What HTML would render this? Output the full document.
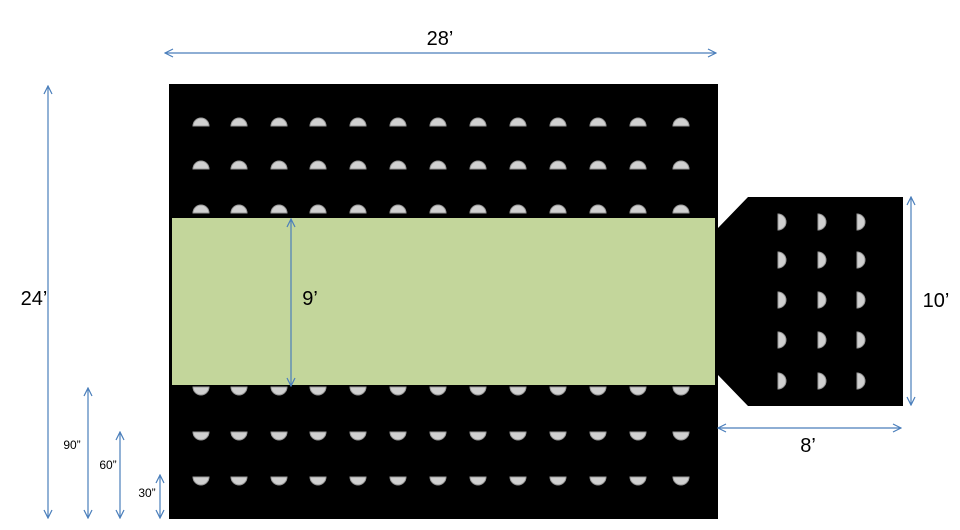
<!DOCTYPE html>
<html><head><style>html,body{margin:0;padding:0;background:#fff}svg{display:block}</style></head>
<body>
<svg width="960" height="530" xmlns="http://www.w3.org/2000/svg" font-family="Liberation Sans, sans-serif">
<defs>
<marker id="a" viewBox="0 0 10 10" refX="9" refY="5" markerWidth="10" markerHeight="10" orient="auto-start-reverse" markerUnits="userSpaceOnUse"><path d="M1,1 L9,5 L1,9" fill="none" stroke="#4a7ebb" stroke-width="1.2"/></marker>
</defs>
<rect x="169" y="84" width="549" height="435" fill="#000"/>
<rect x="172" y="218" width="543" height="167" fill="#c3d69b"/>
<polygon points="718,228 748,197 903,197 903,406 748,406 718,375" fill="#000"/>
<g fill="#d0d0d0" stroke="#999" stroke-width="1">
<g id="top">
<path d="M193,126 a8,8 0 0 1 16,0z"/><path d="M231,126 a8,8 0 0 1 16,0z"/><path d="M271,126 a8,8 0 0 1 16,0z"/><path d="M310,126 a8,8 0 0 1 16,0z"/><path d="M350,126 a8,8 0 0 1 16,0z"/><path d="M390,126 a8,8 0 0 1 16,0z"/><path d="M430,126 a8,8 0 0 1 16,0z"/><path d="M470,126 a8,8 0 0 1 16,0z"/><path d="M510,126 a8,8 0 0 1 16,0z"/><path d="M550,126 a8,8 0 0 1 16,0z"/><path d="M590,126 a8,8 0 0 1 16,0z"/><path d="M630,126 a8,8 0 0 1 16,0z"/><path d="M673,126 a8,8 0 0 1 16,0z"/>
</g>
<use href="#top" y="43"/><use href="#top" y="87"/>
<g id="bot">
<path d="M193,387 a8,8 0 0 0 16,0z"/><path d="M231,387 a8,8 0 0 0 16,0z"/><path d="M271,387 a8,8 0 0 0 16,0z"/><path d="M310,387 a8,8 0 0 0 16,0z"/><path d="M350,387 a8,8 0 0 0 16,0z"/><path d="M390,387 a8,8 0 0 0 16,0z"/><path d="M430,387 a8,8 0 0 0 16,0z"/><path d="M470,387 a8,8 0 0 0 16,0z"/><path d="M510,387 a8,8 0 0 0 16,0z"/><path d="M550,387 a8,8 0 0 0 16,0z"/><path d="M590,387 a8,8 0 0 0 16,0z"/><path d="M630,387 a8,8 0 0 0 16,0z"/><path d="M673,387 a8,8 0 0 0 16,0z"/>
</g>
<use href="#bot" y="45"/><use href="#bot" y="90"/>
<g id="col">
<path d="M778,214 a8,8 0 0 1 0,16z"/><path d="M778,252 a8,8 0 0 1 0,16z"/><path d="M778,292 a8,8 0 0 1 0,16z"/><path d="M778,332 a8,8 0 0 1 0,16z"/><path d="M778,373 a8,8 0 0 1 0,16z"/>
</g>
<use href="#col" x="40"/><use href="#col" x="79"/>
</g>
<g stroke="#4a7ebb" stroke-width="1.2" marker-start="url(#a)" marker-end="url(#a)">
<line x1="165" y1="53" x2="716" y2="53"/>
<line x1="48" y1="86" x2="48" y2="518"/>
<line x1="291" y1="219" x2="291" y2="386"/>
<line x1="911" y1="197" x2="911" y2="405"/>
<line x1="718" y1="428" x2="901" y2="428"/>
<line x1="88" y1="388" x2="88" y2="518"/>
<line x1="120" y1="432" x2="120" y2="518"/>
<line x1="160" y1="475" x2="160" y2="518"/>
</g>
<g fill="#000" font-size="20" text-anchor="middle">
<text x="440" y="45">28’</text>
<text x="34" y="305">24’</text>
<text x="310" y="305">9’</text>
<text x="936" y="307">10’</text>
<text x="808" y="452">8’</text>
</g>
<g fill="#000" font-size="12" text-anchor="middle">
<text x="72" y="449">90”</text>
<text x="108" y="469">60”</text>
<text x="147" y="497">30”</text>
</g>
</svg>
</body></html>
